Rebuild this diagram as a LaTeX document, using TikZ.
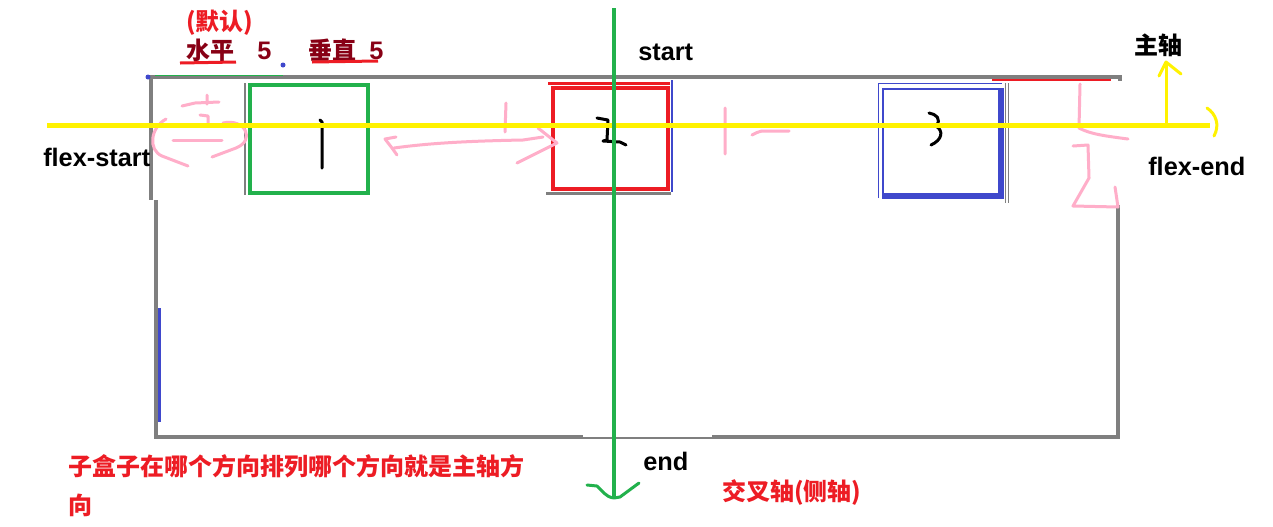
\documentclass[tikz,border=0pt]{standalone}
\usepackage{fontspec}
\setmainfont{Liberation Sans}
\newfontfamily\cjk{Noto Sans CJK SC}
\definecolor{paintred}{HTML}{ED1C24}
\definecolor{paintdarkred}{HTML}{880015}
\definecolor{paintgreen}{HTML}{22B14C}
\definecolor{paintblue}{HTML}{3F48CC}
\definecolor{paintyellow}{HTML}{FFF200}
\definecolor{paintgray}{HTML}{7F7F7F}
\definecolor{paintpink}{HTML}{FFAEC9}
\begin{document}
\begin{tikzpicture}[x=0.75pt,y=-0.75pt,
		latin/.style={font=\fontsize{19}{22}\selectfont\bfseries,inner sep=0pt,anchor=west},
		han/.style={font=\fontsize{18}{22}\selectfont\cjk\bfseries,inner sep=0pt,anchor=west},
		chalk/.style={paintpink,line width=2.25pt,line cap=round,line join=round},
		pen/.style={black,line width=2.25pt,line cap=round,line join=round},
		containerline/.style={paintgray,line width=3pt},
		flexbox/.style={inner sep=0pt,line width=3pt}]
	\useasboundingbox[fill=white] (0,0) rectangle (1273,526);
	\draw [containerline] (150,77) -- (1120,77) -- (1120,81);
	\draw [containerline] (151,77) -- (151,200) (156,200) -- (156,437) -- (583,437);
	\draw [paintgray,line width=1.5pt] (583,437.5) -- (712,437.5);
	\draw [containerline] (712,437) -- (1118,437) -- (1118,205);
	\draw [paintgreen,line width=0.75pt] (155,75.5) -- (283,75.5);
	\draw [paintred,line width=1.5pt] (992,80) -- (1111,80);
	\draw [paintblue,line width=2.25pt] (159,308) -- (159,422);
	\fill [paintblue] (148,77) circle (2.5) (283,65) circle (2.5);
	\node (boxone) [flexbox,draw=paintgreen,minimum width=88.5pt,minimum height=81pt] at (309,139) {};
	\draw [paintgray,line width=1.5pt] ([xshift=-2.5pt]boxone.north west) -- ([xshift=-2.5pt]boxone.south west);
	\node (boxtwo) [flexbox,draw=paintred,minimum width=86.25pt,minimum height=75.75pt] at (610.5,138.5) {};
	\draw [paintred,line width=2.25pt] (548,83) -- (670,83);
	\draw [paintblue,line width=1.5pt] (672,80) -- (672,192);
	\draw [paintgray,line width=2.25pt] (546,193) -- (671,193);
	\node (boxthree) [flexbox,draw=paintblue,line width=1.5pt,minimum width=87.75pt,minimum height=79.5pt] at (941.5,142) {};
	\draw [paintblue,line width=4.5pt] (boxthree.north east) -- (boxthree.south east) -- (boxthree.south west);
	\draw [paintblue,line width=0.75pt] (878,198) -- (878,83) -- (1002,83);
	\draw [paintgray,line width=0.75pt] (1005,83) -- (1005,203) (1008,83) -- (1008,203);
	\draw [pen] (320,120) -- (322,122) -- (322,168);
	\draw [pen] (597,118) -- (608,120) -- (607,140) -- (603,141) -- (620,142) -- (626,145);
	\draw [pen] (929,113) .. controls (936,114) and (942,119) .. (936,126) .. controls (944,131) and (942,140) .. (931,145);
	\draw [chalk] (207,95) -- (207,104) (182,106) -- (195,103) -- (219,102);
	\draw [chalk] (200,115) -- (208,116) -- (208,126) -- (225,125);
	\draw [chalk] (173,140) -- (222,140);
	\draw [chalk] (166,119) .. controls (150,128) and (148,150) .. (162,156) -- (188,166);
	\draw [chalk] (223,123) .. controls (245,118) and (256,140) .. (236,148) -- (212,157);
	\draw [chalk] (396,137) -- (385,139) -- (392,148) -- (397,155);
	\draw [chalk] (394,148) .. controls (430,143) and (470,141) .. (523,140) -- (543,137);
	\draw [chalk] (538,128) -- (557,143) -- (517,163);
	\draw [chalk] (506,103) -- (505,132);
	\draw [chalk] (725,108) -- (725,154) (752,135) .. controls (755,133) and (758,132) .. (762,131) -- (789,131);
	\draw [chalk] (1080,84) -- (1079,128) .. controls (1090,134) and (1105,136) .. (1128,139);
	\draw [chalk] (1073,146) -- (1088,145) -- (1089,178) -- (1073,206) -- (1118,207) -- (1115,187);
	\coordinate (mainstart) at (47,125);
	\coordinate (mainend) at (1210,125);
	\coordinate (crosstop) at (614,8);
	\coordinate (crossend) at (614,497);
	\coordinate (mainup) at (1166,62);
	\draw [paintyellow,line width=3.75pt] (mainstart) -- (mainend);
	\draw [paintyellow,line width=2.25pt,line cap=round] (1207,108) .. controls (1216,114) and (1220,125) .. (1214,136);
	\draw [paintyellow,line width=2.25pt] (1166,125) -- (mainup);
	\draw [paintyellow,line width=2.25pt,line cap=round,line join=round] (1159,76) -- (mainup) -- (1181,74);
	\draw [paintgreen,line width=3pt] (crosstop) -- (crossend);
	\draw [paintgreen,line width=2.25pt,line cap=round,line join=round] (587,485) -- (597,486) .. controls (602,490) and (605,497) .. (614,498) -- (620,497) -- (639,483);
	\node (default) [han,text=paintred] at (186,23) {(默认)};
	\node (horizontal) [han,text=paintdarkred] at (186,50) {水平};
	\node (horizontalgap) [latin,text=paintdarkred] at (257,51) {5};
	\node (vertical) [han,text=paintdarkred] at (308,50) {垂直};
	\node (verticalgap) [latin,text=paintdarkred] at (369,51) {5};
	\draw [paintred,line width=2.25pt] (180,63) -- (236,62) (312,62) -- (378,61);
	\node (start) [latin] at (638,52) {start};
	\node (end) [latin] at (643,461) {end};
	\node (flexstart) [latin] at (43,157) {flex-start};
	\node (flexend) [latin] at (1148,166) {flex-end};
	\node (mainaxis) [han] at (1134,45) {主轴};
	\node (crossaxis) [han,text=paintred] at (722,493) {交叉轴(侧轴)};
	\node (noteone) [han,text=paintred] at (68,466) {子盒子在哪个方向排列哪个方向就是主轴方};
	\node (notetwo) [han,text=paintred] at (68,505) {向};
\end{tikzpicture}
\end{document}
